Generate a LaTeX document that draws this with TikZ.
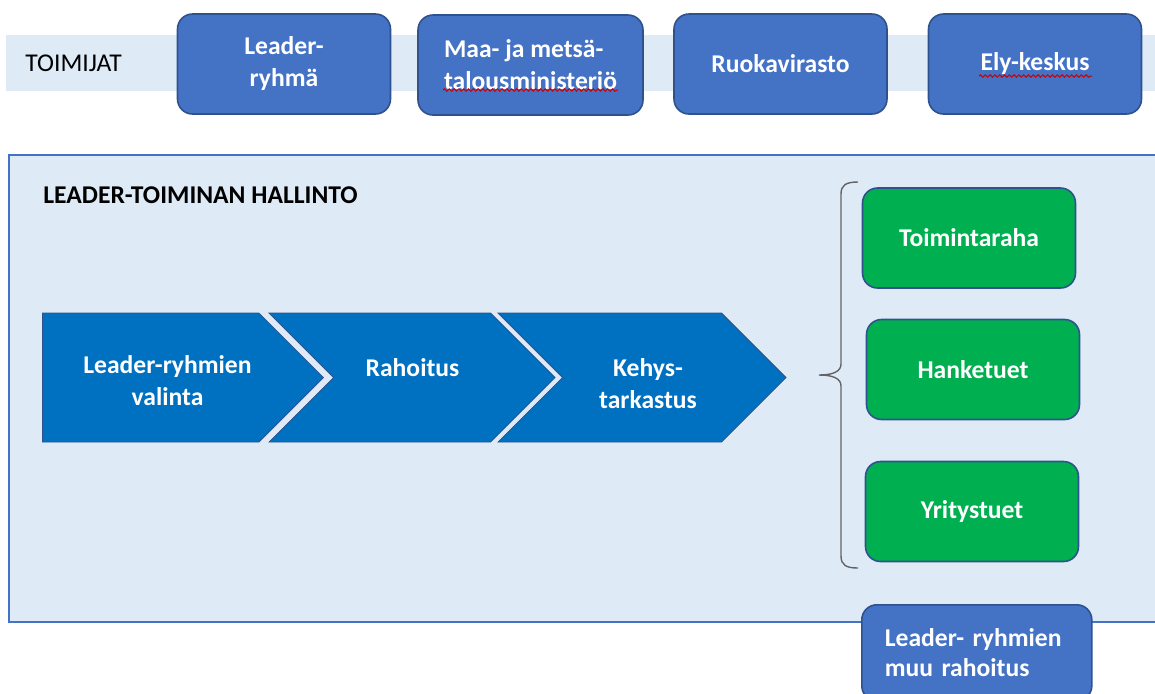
\documentclass[tikz,border=0pt]{standalone}
\usepackage{fontspec}
\setmainfont{Carlito}
\usetikzlibrary{shapes.symbols}
\usetikzlibrary{decorations.pathmorphing}
\definecolor{bandblue}{RGB}{222,235,247}
\definecolor{boxblue}{RGB}{68,114,196}
\definecolor{boxedge}{RGB}{47,82,143}
\definecolor{arrowblue}{RGB}{0,112,192}
\definecolor{fundgreen}{RGB}{0,176,80}
\definecolor{bracegrey}{RGB}{100,100,100}
\newcommand{\boxfont}{\fontsize{12.8}{16}\selectfont}
\tikzset{
  actor/.style={draw=boxedge, line width=0.8pt, fill=boxblue, rounded corners=7.5pt,
    text=white, font=\bfseries\boxfont, minimum width=106.5pt, minimum height=50pt, align=center},
  fund/.style={actor, fill=fundgreen},
  phase/.style={shape=signal, signal to=east, signal pointer angle=90, fill=arrowblue,
    draw=boxedge, line width=0.4pt, minimum width=143pt, minimum height=64.5pt, inner sep=0pt},
  phasetext/.style={text=white, font=\bfseries\boxfont, align=center},
  spellmark/.style={draw=red!80!black, line width=0.5pt, decorate,
    decoration={snake, amplitude=0.6pt, segment length=2.4pt}}
}

\begin{document}
\begin{tikzpicture}[x=0.5pt,y=-0.5pt]
\useasboundingbox (0,0) rectangle (1155,693);
% toimijat band
\fill[bandblue] (6,35) rectangle (1160,91);
\node[anchor=west, inner sep=0pt, font=\boxfont] (toimijat) at (25,63) {TOIMIJAT};
\node[actor] (leader) at (284,64) {Leader-\\ryhmä};
\node[actor, minimum width=112.5pt, align=left] (mmm) at (530.5,65) {Maa- ja metsä-\\talousministeriö};
\node[actor] (ruoka) at (780.5,64) {Ruokavirasto};
\node[actor] (ely) at (1035,64) {Ely-keskus};
\draw[spellmark] (443,90) -- (618,90);
\draw[spellmark] (979,76) -- (1092,76);

% hallinto panel
\draw[draw=boxblue, line width=0.7pt, fill=bandblue] (9,155) rectangle (1170,622);
\node[anchor=west, inner sep=0pt, font=\bfseries\boxfont] (hallinto) at (43,195) {LEADER-TOIMINAN HALLINTO};

% process chevrons
\node[phase, minimum width=140.5pt, anchor=east] (valinta) at (324,377.5) {};
\node[phase, signal from=west, anchor=west] (rahoitus) at (333,377.5) {};
\node[phase, signal from=west, minimum width=144pt, anchor=west] (kehys) at (562,377.5) {};
\node[phasetext] (valintatext) at (167.5,380.5) {Leader-ryhmien\\valinta};
\node[phasetext] (rahoitustext) at (412.5,368) {Rahoitus};
\node[phasetext] (kehystext) at (648,384) {Kehys-\\tarkastus};

\node[fund] (toimintaraha) at (969,238) {Toimintaraha};
\node[fund] (hanketuet) at (973,369.5) {Hanketuet};
\node[fund] (yritystuet) at (972,511.5) {Yritystuet};

% brace round the funds
\coordinate (bracehigh) at (858,182);
\coordinate (bracelow) at (858,568);
\draw[bracegrey, line width=0.7pt] (bracehigh) .. controls (846,182) and (841,185) .. (841,194)
  -- (841,364) .. controls (841,371) and (834,375) .. (819,375)
  .. controls (834,375) and (841,379) .. (841,386)
  -- (841,556) .. controls (841,565) and (846,568) .. (bracelow);

\node[actor, anchor=north west, text width=92pt, inner xsep=11.5pt, minimum height=48pt,
  align=left, font=\bfseries\fontsize{12.8}{15}\selectfont] (muu) at (861,604)
  {Leader- ryhmien\\muu rahoitus};
\end{tikzpicture}
\end{document}
